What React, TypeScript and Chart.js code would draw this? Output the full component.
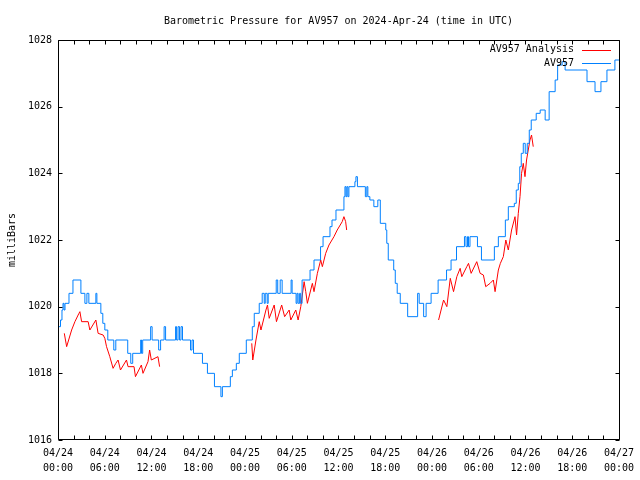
import React, { useEffect, useRef } from 'react';
import { Chart, registerables } from 'chart.js';

Chart.register(...registerables);

const TITLE = 'Barometric Pressure for AV957 on 2024-Apr-24 (time in UTC)';
const Y_TITLE = 'milliBars';
const SERIES_NAMES = ['AV957 Analysis', 'AV957'];
const SERIES_COLORS = ['#ff0000', '#0080ff'];

// hours since 04/24 00:00 UTC
const X_TICK_HOURS = [0, 2, 4, 6, 8, 10, 12, 14, 16, 18, 20, 22, 24, 26, 28, 30, 32, 34, 36, 38, 40, 42, 44, 46, 48, 50, 52, 54, 56, 58, 60, 62, 64, 66, 68, 70, 72];
const X_TICK_LABELS = [
  ['04/24', '00:00'], ['04/24', '06:00'], ['04/24', '12:00'], ['04/24', '18:00'],
  ['04/25', '00:00'], ['04/25', '06:00'], ['04/25', '12:00'], ['04/25', '18:00'],
  ['04/26', '00:00'], ['04/26', '06:00'], ['04/26', '12:00'], ['04/26', '18:00'],
  ['04/27', '00:00'],
];
const Y_TICKS = [1016, 1018, 1020, 1022, 1024, 1026, 1028];

// AV957 observations (value changes at each listed hour)
const obsHours = [0.13, 0.32, 0.51, 0.64, 0.77, 0.9, 1.41, 1.92, 2.94, 3.45, 3.71, 3.96, 4.86, 4.99, 5.5, 5.75, 6.01, 6.39, 7.16, 7.42, 8.95, 9.34, 9.59, 10.61, 10.72, 10.87, 11.89, 12.08, 12.92, 13.17, 13.62, 13.81, 15.09, 15.22, 15.41, 15.6, 15.79, 15.98, 17.01, 17.2, 17.39, 18.54, 19.18, 20.08, 20.91, 21.1, 22.12, 22.38, 22.89, 23.27, 24.17, 24.94, 25.19, 25.83, 26.21, 26.47, 26.6, 26.85, 26.98, 28.01, 28.2, 28.52, 28.77, 29.92, 30.05, 30.56, 30.69, 30.82, 31.01, 31.14, 31.33, 32.35, 32.86, 33.7, 34.02, 34.91, 35.17, 35.68, 36.7, 36.83, 36.96, 37.08, 37.21, 37.34, 38.11, 38.24, 38.43, 39.45, 39.64, 39.77, 40.03, 40.54, 41.05, 41.37, 42.07, 42.2, 42.39, 43.09, 43.29, 43.54, 43.93, 44.88, 46.16, 46.36, 46.93, 47.25, 47.89, 48.79, 49.87, 50.45, 51.15, 52.17, 52.37, 52.56, 52.69, 52.88, 53.84, 54.35, 56.01, 56.52, 57.42, 57.8, 58.57, 58.82, 59.08, 59.27, 59.46, 59.72, 59.97, 60.23, 60.49, 60.74, 61.38, 61.89, 62.53, 63.04, 63.81, 64.13, 64.71, 65.09, 67.9, 68.93, 69.69, 70.46, 71.48, 72];
const obsMb = [1019.4, 1019.6, 1019.9, 1020.1, 1019.9, 1020.1, 1020.4, 1020.8, 1020.4, 1020.1, 1020.4, 1020.1, 1020.4, 1020.1, 1019.8, 1019.5, 1019.3, 1019.0, 1018.7, 1019.0, 1018.6, 1018.3, 1018.6, 1019.0, 1018.6, 1019.0, 1019.4, 1019.0, 1018.7, 1019.0, 1019.4, 1019.0, 1019.4, 1019.0, 1019.4, 1019.0, 1019.4, 1019.0, 1018.7, 1019.0, 1018.6, 1018.3, 1018.0, 1017.6, 1017.3, 1017.6, 1017.9, 1018.1, 1018.3, 1018.6, 1019.0, 1019.4, 1019.8, 1020.1, 1020.4, 1020.1, 1020.4, 1020.1, 1020.4, 1020.8, 1020.4, 1020.8, 1020.4, 1020.8, 1020.4, 1020.1, 1020.4, 1020.1, 1020.4, 1020.1, 1020.8, 1021.1, 1021.4, 1021.8, 1022.1, 1022.4, 1022.6, 1022.9, 1023.3, 1023.6, 1023.3, 1023.6, 1023.3, 1023.6, 1023.75, 1023.9, 1023.6, 1023.3, 1023.6, 1023.3, 1023.2, 1023.0, 1023.2, 1022.5, 1022.3, 1021.9, 1021.4, 1021.1, 1020.7, 1020.4, 1020.1, 1019.7, 1020.4, 1020.1, 1019.7, 1020.1, 1020.4, 1020.8, 1021.1, 1021.4, 1021.8, 1022.1, 1021.8, 1022.1, 1021.8, 1022.1, 1021.8, 1021.4, 1021.8, 1022.1, 1022.6, 1023.0, 1023.1, 1023.5, 1023.7, 1024.2, 1024.6, 1024.9, 1024.6, 1024.9, 1025.3, 1025.6, 1025.8, 1025.9, 1025.6, 1026.45, 1026.8, 1027.25, 1027.35, 1027.1, 1026.75, 1026.45, 1026.75, 1027.1, 1027.4, 1027.4];

// AV957 Analysis (null = gap)
const analysisHours = [0.81, 1.11, 1.75, 2.17, 2.69, 2.81, 3.03, 3.87, 4.09, 4.86, 5.15, 5.79, 6.01, 6.23, 6.65, 7.07, 7.42, 7.71, 8.02, 8.79, 8.99, 9.76, 9.94, 10.7, 10.91, 11.55, 11.76, 11.98, 12.83, 13.04, 18, 24.87, 25.0, 25.41, 25.83, 26.05, 26.69, 26.89, 27.11, 27.75, 28.04, 28.71, 29.09, 29.67, 29.88, 30.52, 30.82, 31.16, 31.59, 31.8, 32.01, 32.65, 32.86, 33.29, 33.72, 33.93, 34.36, 34.78, 35.42, 35.84, 36.48, 36.7, 36.92, 37.05, 43, 48.85, 49.49, 49.91, 50.35, 50.77, 51.19, 51.62, 51.83, 52.47, 52.69, 53.03, 53.54, 53.75, 54.18, 54.6, 54.9, 55.46, 55.88, 56.1, 56.52, 56.78, 57.16, 57.48, 57.8, 58.22, 58.66, 58.86, 59.08, 59.3, 59.5, 59.72, 59.94, 60.14, 60.36, 60.58, 60.78, 61.0];
const analysisMb = [1019.2, 1018.8, 1019.3, 1019.55, 1019.8, 1019.85, 1019.55, 1019.55, 1019.3, 1019.6, 1019.2, 1019.15, 1019.05, 1018.8, 1018.5, 1018.15, 1018.3, 1018.4, 1018.1, 1018.4, 1018.2, 1018.2, 1017.9, 1018.25, 1018.0, 1018.35, 1018.7, 1018.4, 1018.5, 1018.2, null, 1018.9, 1018.4, 1019.0, 1019.55, 1019.3, 1019.9, 1020.05, 1019.65, 1020.05, 1019.55, 1020.05, 1019.7, 1019.9, 1019.6, 1019.9, 1019.6, 1020.0, 1020.75, 1020.45, 1020.1, 1020.7, 1020.45, 1021.0, 1021.4, 1021.2, 1021.6, 1021.85, 1022.1, 1022.3, 1022.55, 1022.7, 1022.55, 1022.3, null, 1019.6, 1020.2, 1020.0, 1020.85, 1020.45, 1020.9, 1021.15, 1020.9, 1021.2, 1021.3, 1021.0, 1021.25, 1021.35, 1021.0, 1020.95, 1020.6, 1020.7, 1020.8, 1020.45, 1021.1, 1021.3, 1021.5, 1022.0, 1021.7, 1022.3, 1022.7, 1022.15, 1022.8, 1023.3, 1024.0, 1024.3, 1023.9, 1024.4, 1024.7, 1025.0, 1025.15, 1024.8];

const FONT = '"DejaVu Sans Mono", "Liberation Mono", monospace';

const framePlugin = {
  id: 'gnuFrame',
  afterDatasetsDraw(chart: any) {
    const { ctx, chartArea: a, scales } = chart;
    const xs = scales.x;
    const ys = scales.y;
    ctx.save();
    ctx.strokeStyle = '#000';
    ctx.lineWidth = 1;
    const L = Math.round(a.left) + 0.5;
    const R = Math.round(a.right) + 0.5;
    const T = Math.round(a.top) + 0.5;
    const B = Math.round(a.bottom) - 0.5;
    ctx.beginPath();
    ctx.rect(L, T, R - L, B - T);
    const tl = 4;
    xs.ticks.forEach((t: any) => {
      const px = Math.round(xs.getPixelForValue(t.value)) + 0.5;
      ctx.moveTo(px, B);
      ctx.lineTo(px, B - tl);
      ctx.moveTo(px, T);
      ctx.lineTo(px, T + tl);
    });
    ys.ticks.forEach((t: any) => {
      const py = Math.round(ys.getPixelForValue(t.value)) + 0.5;
      ctx.moveTo(L, py);
      ctx.lineTo(L + tl, py);
      ctx.moveTo(R, py);
      ctx.lineTo(R - tl, py);
    });
    ctx.stroke();

    // key (top-right, gnuplot style)
    ctx.font = `10px ${FONT}`;
    ctx.textAlign = 'right';
    ctx.textBaseline = 'middle';
    chart.data.datasets.forEach((ds: any, i: number) => {
      const yy = 49.5 + i * 13.5;
      ctx.fillStyle = '#000';
      ctx.fillText(ds.label, 574, yy);
      ctx.strokeStyle = ds.borderColor;
      ctx.beginPath();
      ctx.moveTo(582, Math.round(yy) + 0.5);
      ctx.lineTo(611, Math.round(yy) + 0.5);
      ctx.stroke();
    });
    ctx.restore();
  },
};

export default function App() {
  const ref = useRef<HTMLCanvasElement | null>(null);

  useEffect(() => {
    const canvas = ref.current;
    if (!canvas) return;
    const analysisData = analysisHours.map((h, i) => ({ x: h, y: analysisMb[i] }));
    const obsData = obsHours.map((h, i) => ({ x: h, y: obsMb[i] }));
    const chart = new Chart(canvas, {
      type: 'line',
      data: {
        datasets: [
          {
            label: SERIES_NAMES[0],
            data: analysisData as any,
            borderColor: SERIES_COLORS[0],
            backgroundColor: SERIES_COLORS[0],
            borderWidth: 1,
            pointRadius: 0,
            tension: 0,
            spanGaps: false,
            order: 1,
          },
          {
            label: SERIES_NAMES[1],
            data: obsData as any,
            borderColor: SERIES_COLORS[1],
            backgroundColor: SERIES_COLORS[1],
            borderWidth: 1,
            pointRadius: 0,
            stepped: 'before',
            order: 0,
          },
        ],
      },
      options: {
        responsive: false,
        animation: false,
        devicePixelRatio: 1,
        layout: { padding: { left: 0, right: 19, top: 0, bottom: 0 } },
        plugins: {
          legend: { display: false },
          tooltip: { enabled: false },
          title: {
            display: true,
            text: TITLE,
            color: '#000',
            fullSize: false,
            font: { family: FONT, size: 10, weight: 'normal', lineHeight: 1.2 },
            padding: { top: 15, bottom: 13 },
          },
        },
        scales: {
          x: {
            type: 'linear',
            min: 0,
            max: 72,
            grid: { display: false, drawTicks: false },
            border: { display: false },
            afterBuildTicks: (s: any) => {
              s.ticks = X_TICK_HOURS.map((v) => ({ value: v }));
            },
            afterFit: (s: any) => {
              s.height = 40;
            },
            ticks: {
              autoSkip: false,
              maxRotation: 0,
              minRotation: 0,
              padding: 6,
              color: '#000',
              font: { family: FONT, size: 10, lineHeight: 1.5 },
              callback: (v: any) => (Number(v) % 6 === 0 ? X_TICK_LABELS[Number(v) / 6] : ''),
            },
          },
          y: {
            type: 'linear',
            min: 1016,
            max: 1028,
            grid: { display: false, drawTicks: false },
            border: { display: false },
            afterBuildTicks: (s: any) => {
              s.ticks = Y_TICKS.map((v) => ({ value: v }));
            },
            afterFit: (s: any) => {
              s.width = 58;
            },
            title: {
              display: true,
              text: Y_TITLE,
              color: '#000',
              font: { family: FONT, size: 10, lineHeight: 1.2 },
              padding: { top: 6, bottom: 0 },
            },
            ticks: {
              padding: 6,
              color: '#000',
              font: { family: FONT, size: 10 },
              callback: (v: any) => String(v),
            },
          },
        },
      },
      plugins: [framePlugin],
    });
    return () => chart.destroy();
  }, []);

  return (
    <div style={{ position: 'fixed', left: 0, top: 0, width: 640, height: 480, background: '#fff' }}>
      <canvas ref={ref} width={640} height={480} style={{ display: 'block', width: 640, height: 480 }} />
    </div>
  );
}
